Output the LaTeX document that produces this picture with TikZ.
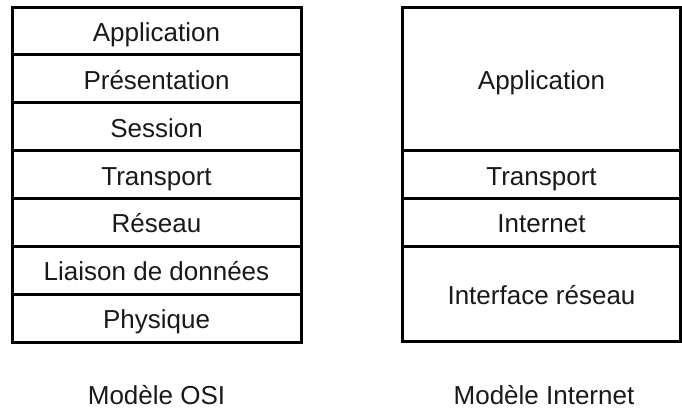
\documentclass[tikz,border=0pt]{standalone}
\usepackage{fontspec}
\setmainfont{Liberation Sans}
\begin{document}
\begin{tikzpicture}[x=1pt,y=-1pt,
  layer/.style={draw=black, line width=3pt, rectangle, inner sep=0pt,
    minimum width=289pt, minimum height=47.857pt,
    text height=21pt, text depth=0pt,
    font=\fontsize{26}{30}\selectfont, text=black!90},
  netlayer/.style={layer, minimum width=278pt},
  caption/.style={anchor=base, inner sep=0pt,
    font=\fontsize{26}{30}\selectfont, text=black!90}]
\useasboundingbox (0,0) rectangle (682,412);
\clip (0,0) rectangle (682,412);
% OSI model
\node[layer] (osi1) at (156.5, 30.93) {Application};
\node[layer] (osi2) at (156.5, 78.79) {Présentation};
\node[layer] (osi3) at (156.5,126.64) {Session};
\node[layer] (osi4) at (156.5,174.50) {Transport};
\node[layer] (osi5) at (156.5,222.36) {Réseau};
\node[layer] (osi6) at (156.5,270.21) {Liaison de données};
\node[layer] (osi7) at (156.5,318.07) {Physique};
% Internet model
\node[netlayer, minimum height=143.57pt] (inet1) at (541.5, 78.79) {Application};
\node[netlayer] (inet2) at (541.5,174.50) {Transport};
\node[netlayer] (inet3) at (541.5,222.36) {Internet};
\node[netlayer, minimum height=95.71pt] (inet4) at (541.5,294.14) {Interface réseau};
% captions
\node[caption] (cosi) at (156.5,404) {Modèle OSI};
\node[caption] (cinet) at (544,404) {Modèle Internet};
\end{tikzpicture}
\end{document}
